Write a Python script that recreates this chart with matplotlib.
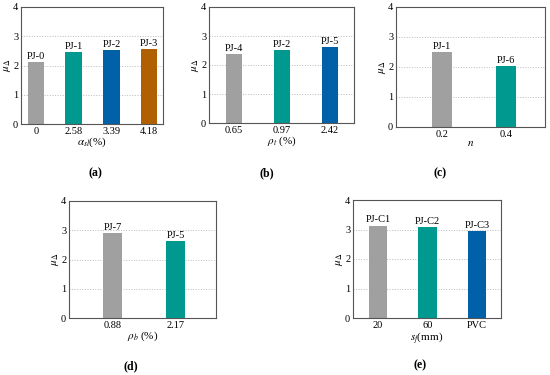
import matplotlib
matplotlib.use("Agg")
import matplotlib.pyplot as plt

plt.rcParams["font.family"] = ["Liberation Serif", "DejaVu Serif"]
plt.rcParams["mathtext.fontset"] = "stix"

GRAY = "#a0a0a0"
TEAL = "#00998f"
BLUE = "#0060a8"
BROWN = "#b06000"

# ── data ──
a_ticks = ["0", "2.58", "3.39", "4.18"]
a_names = ["PJ-0", "PJ-1", "PJ-2", "PJ-3"]
a_vals = [2.11, 2.47, 2.53, 2.56]

b_ticks = ["0.65", "0.97", "2.42"]
b_names = ["PJ-4", "PJ-2", "PJ-5"]
b_vals = [2.37, 2.52, 2.63]

c_ticks = ["0.2", "0.4"]
c_names = ["PJ-1", "PJ-6"]
c_vals = [2.49, 2.04]

d_ticks = ["0.88", "2.17"]
d_names = ["PJ-7", "PJ-5"]
d_vals = [2.90, 2.63]

e_ticks = ["20", "60", "PVC"]
e_names = ["PJ-C1", "PJ-C2", "PJ-C3"]
e_vals = [3.13, 3.08, 2.96]

W, H = 550, 375
fig = plt.figure(figsize=(W / 100, H / 100), dpi=100)


def box(l, r, t, b):
    return [l / W, 1 - b / H, (r - l) / W, (b - t) / H]


def panel(rect, ticks, names, vals, colors, width, xlim, xlabel, tag, tag_xy):
    ax = fig.add_axes(rect)
    x = list(range(len(vals)))
    ax.bar(x, vals, width=width, color=colors, zorder=2)
    for xi, v, nm in zip(x, vals, names):
        ax.text(xi, v + 0.04, nm, ha="center", va="bottom", fontsize=7.5)
    ax.set_xlim(*xlim)
    ax.set_ylim(0, 4)
    ax.set_yticks([0, 1, 2, 3, 4])
    ax.set_xticks(x)
    ax.set_xticklabels(ticks)
    ax.tick_params(labelsize=7.5, length=0, pad=2)
    for yy in (1, 2, 3):
        ax.axhline(yy, color="#bbbbbb", lw=0.7, ls=":", zorder=1)
    for s in ax.spines.values():
        s.set_color("#555555")
        s.set_linewidth(0.8)
    ax.set_ylabel(r"$\mu_{\Delta}$", fontsize=8, labelpad=0)
    ax.set_xlabel(xlabel, fontsize=8, labelpad=0)
    fig.text(tag_xy[0] / W, 1 - tag_xy[1] / H, tag, ha="center", va="center",
             fontsize=8.5, fontweight="bold")
    return ax


panel(box(21, 163, 7, 124), a_ticks, a_names, a_vals, [GRAY, TEAL, BLUE, BROWN],
      0.44, (-0.4, 3.37), r"$\alpha_{sl}$(%)", "(a)", (95, 173))
panel(box(209, 354, 7, 123), b_ticks, b_names, b_vals, [GRAY, TEAL, BLUE],
      0.35, (-0.52, 2.5), r"$\rho_{t}$ (%)", "(b)", (267, 173))
panel(box(396, 545, 7, 127), c_ticks, c_names, c_vals, [GRAY, TEAL],
      0.31, (-0.72, 1.61), r"$n$", "(c)", (440, 173))
panel(box(69, 216, 201, 318), d_ticks, d_names, d_vals, [GRAY, TEAL],
      0.30, (-0.69, 1.64), r"$\rho_{b}$ (%)", "(d)", (131, 366))
panel(box(353, 501, 200, 318), e_ticks, e_names, e_vals, [GRAY, TEAL, BLUE],
      0.37, (-0.51, 2.49), r"$s_{f}$(mm)", "(e)", (420, 365))

fig.savefig("out.png", dpi=100)
